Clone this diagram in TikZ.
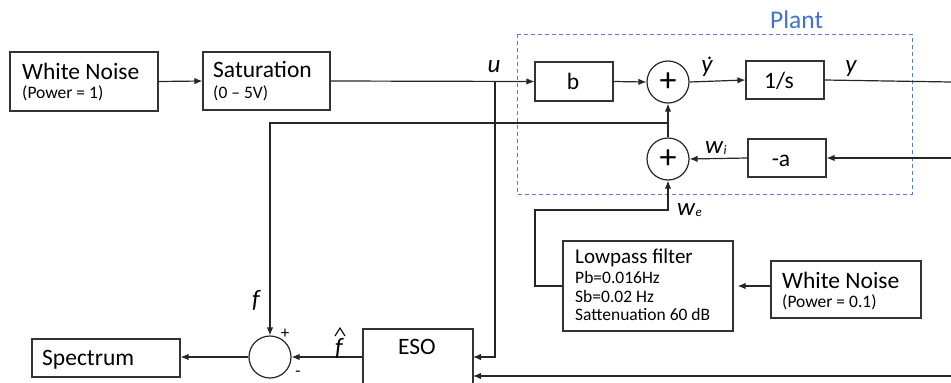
\documentclass[tikz,border=0pt]{standalone}
\usepackage{fontspec}
\setmainfont{Carlito}
\usetikzlibrary{arrows.meta}
\definecolor{plantblue}{RGB}{68,114,196}
\definecolor{dashblue}{RGB}{95,125,175}
\begin{document}
\begin{tikzpicture}[x=1pt,y=-1pt,
  blk/.style={draw=black!80, line width=1.2pt, inner sep=0pt},
  sumc/.style={circle, draw=black!85, line width=1.2pt, minimum size=42pt, inner sep=0pt},
  ln/.style={line width=1.2pt, draw=black!85},
  arr/.style={ln, -{Latex[length=8pt,width=6.5pt]}},
  big/.style={font=\fontsize{23.5}{27}\selectfont, text=black, inner sep=0pt},
  mid/.style={font=\fontsize{21}{24}\selectfont, text=black, inner sep=0pt},
  small/.style={font=\fontsize{17.5}{20}\selectfont, text=black, inner sep=0pt},
  lbl/.style={font=\fontsize{25}{28}\selectfont\itshape, text=black, inner sep=0pt},
  sgn/.style={font=\fontsize{17}{20}\selectfont, text=black, inner sep=0pt},
  plus/.style={font=\fontsize{34}{36}\selectfont, text=black}]
\useasboundingbox (0,0) rectangle (951,383);
\clip (0,0) rectangle (951,383);

% plant frame
\draw[dashblue, line width=1pt, dash pattern=on 4pt off 3pt] (517,34) rectangle (912,194);
\node[font=\fontsize{25.5}{28}\selectfont, text=plantblue, anchor=base west, inner sep=0pt] (plant) at (770,28) {Plant};

% blocks
\node[blk, minimum width=148pt, minimum height=59pt] (wn1) at (84,81.5) {};
\node[big, anchor=base west] (wn1t) at (22,79) {White Noise};
\node[small, anchor=base west] (wn1s) at (22,98) {(Power = 1)};

\node[blk, minimum width=127pt, minimum height=58pt] (sat) at (266.5,81) {};
\node[big, anchor=base west] (satt) at (213,77) {Saturation};
\node[small, anchor=base west] (sats) at (213,98) {(0 \textendash{} 5V)};

\node[blk, minimum width=78pt, minimum height=39pt] (b) at (574,81.5) {};
\node[big, anchor=base] (bt) at (573,89) {b};

\node[sumc] (s1) at (668,82) {};
\node[plus] (s1p) at (668,82) {+};

\node[blk, minimum width=78pt, minimum height=38pt] (int) at (785,80) {};
\node[big, anchor=base] (intt) at (779,88) {1/s};

\node[blk, minimum width=78pt, minimum height=38pt] (na) at (787,158) {};
\node[big, anchor=base] (nat) at (781,166) {-a};

\node[sumc] (s2) at (668,159) {};
\node[plus] (s2p) at (668,159) {+};

\node[blk, minimum width=170pt, minimum height=90pt] (lp) at (648,286) {};
\node[mid, anchor=base west] (lpt) at (575,263) {Lowpass filter};
\node[small, anchor=base west] (lp1) at (575,283) {Pb=0.016Hz};
\node[small, anchor=base west] (lp2) at (575,302) {Sb=0.02 Hz};
\node[small, anchor=base west] (lp3) at (575,320) {Sattenuation 60 dB};

\node[blk, minimum width=150pt, minimum height=57pt] (wn2) at (846,289.5) {};
\node[big, anchor=base west] (wn2t) at (782,288) {White Noise};
\node[small, anchor=base west] (wn2s) at (782,307) {(Power = 0.1)};

\node[blk, minimum width=110pt, minimum height=80pt] (eso) at (418,369) {};
\node[big, anchor=base] (esot) at (417,354) {ESO};

\node[sumc] (s3) at (270,357) {};

\node[blk, minimum width=148pt, minimum height=38pt] (spec) at (106,358) {};
\node[big, anchor=base west] (spect) at (42,365) {Spectrum};

% coordinates
\coordinate (uj) at (495,82);
\coordinate (ein1) at (473,357);
\coordinate (ein2) at (473,376);
\coordinate (yout) at (951,82);
\coordinate (fbin) at (951,158);
\coordinate (fbin2) at (951,376);
\coordinate (j1) at (668,123);
\coordinate (j1l) at (270,123);
\coordinate (we1) at (535,286);
\coordinate (we2) at (535,210);
\coordinate (we3) at (668,210);

% connectors
\draw[arr] (wn1.east) -- (sat.west);
\draw[arr] (sat.east) -- (b.west);
\draw[arr] (uj) |- (ein1);
\draw[arr] (b.east) -- (s1.west);
\draw[arr] (s1.east) -- (int.west);
\draw[ln] (int.east) -- (yout);
\draw[arr] (fbin) -- (na.east);
\draw[arr] (na.west) -- (s2.east);
\draw[arr] (s2.north) -- (s1.south);
\draw[arr] (j1) -- (j1l) -- (s3.north);
\draw[arr] (lp.west) -- (we1) -- (we2) -- (we3) -- (s2.south);
\draw[arr, shorten >=4pt] (wn2.west |- lp.east) -- (lp.east);
\draw[arr] (fbin2) -- (ein2);
\draw[arr] (eso.west |- s3.east) -- (s3.east);
\draw[arr] (s3.west) -- (s3.west -| spec.east);

% labels
\node[lbl, anchor=base] (lu) at (494,72) {u};
\node[lbl, anchor=base] (lyd) at (707,72) {y};
\fill[black] (lyd.north) ++(2.5,-2) circle (1.6pt);
\node[lbl, anchor=base] (ly) at (851,72) {y};
\node[lbl, anchor=base west] (lwi) at (705,153) {w\kern0.5pt\raisebox{-1pt}{\fontsize{13}{14}\selectfont i}};
\node[lbl, anchor=base west] (lwe) at (677,215) {w\kern0.5pt\raisebox{-1pt}{\fontsize{13}{14}\selectfont e}};
\node[lbl, anchor=base] (lf) at (256,307) {f};
\node[lbl, anchor=base] (lfh) at (339,355) {f};
\draw[black, line width=1.1pt] (335,336) -- (340,328) -- (345,336);
\node[sgn, anchor=base] (lplus) at (285,338) {+};
\node[sgn, anchor=base] (lminus) at (298,376) {-};
\end{tikzpicture}
\end{document}
